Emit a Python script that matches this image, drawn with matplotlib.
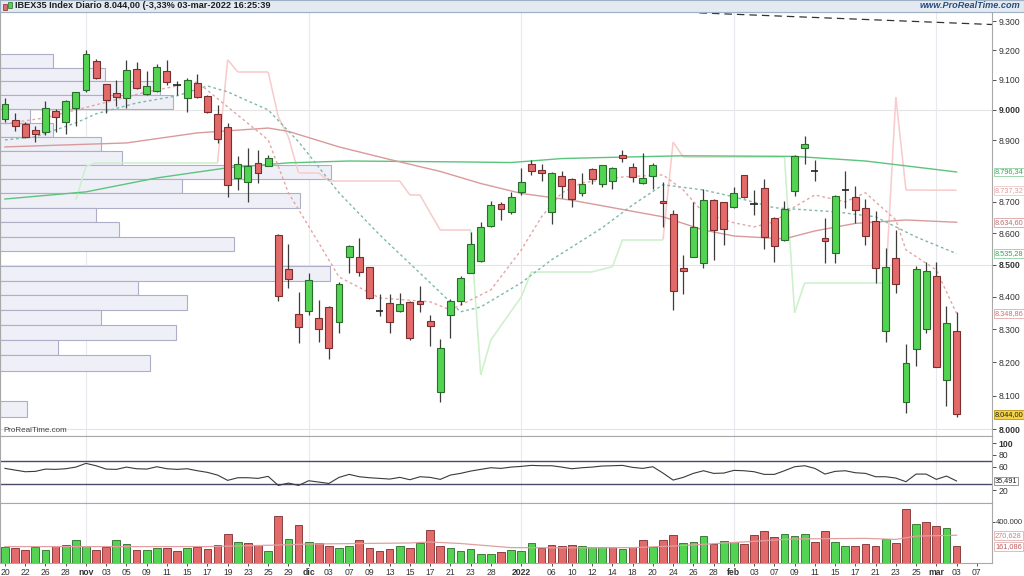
import numpy as np
import matplotlib
matplotlib.use("Agg")
import matplotlib.pyplot as plt
from matplotlib.ticker import NullLocator

plt.rcParams['font.family'] = ['Liberation Sans', 'DejaVu Sans']

# ---- daily candles IBEX35, 20-oct-2021 .. 03-mar-2022 ----
opens = [8969, 8966, 8955, 8934, 8926, 8997, 8960, 9006, 9066, 9164,
         9086, 9056, 9041, 9136, 9054, 9062, 9130, 9085, 9039, 9089,
         9047, 8987, 8945, 8776, 8763, 8827, 8817, 8595, 8487, 8347,
         8358, 8335, 8370, 8324, 8524, 8526, 8492, 8360, 8381, 8358,
         8384, 8388, 8327, 8112, 8344, 8388, 8476, 8512, 8623, 8693,
         8666, 8730, 8822, 8802, 8667, 8784, 8773, 8728, 8806, 8757,
         8768, 8852, 8814, 8760, 8784, 8703, 8661, 8490, 8526, 8505,
         8706, 8699, 8682, 8785, 8697, 8744, 8648, 8577, 8736, 8874,
         8801, 8584, 8538, 8739, 8715, 8680, 8639, 8296, 8521, 8082,
         8241, 8302, 8464, 8147, 8296]
highs = [9041, 8991, 8960, 8948, 9028, 9003, 9033, 9060, 9202, 9170,
         9087, 9099, 9168, 9162, 9130, 9153, 9168, 9097, 9106, 9120,
         9050, 9017, 8956, 8847, 8876, 8868, 8850, 8598, 8565, 8415,
         8474, 8391, 8372, 8445, 8562, 8584, 8494, 8410, 8410, 8412,
         8386, 8434, 8345, 8270, 8393, 8464, 8605, 8637, 8704, 8701,
         8730, 8810, 8836, 8822, 8797, 8798, 8777, 8792, 8808, 8820,
         8814, 8868, 8825, 8857, 8827, 8765, 8674, 8531, 8698, 8741,
         8708, 8701, 8747, 8787, 8738, 8773, 8650, 8703, 8850, 8915,
         8836, 8648, 8722, 8801, 8751, 8708, 8669, 8553, 8610, 8255,
         8497, 8508, 8508, 8372, 8352]
lows = [8959, 8931, 8908, 8894, 8917, 8926, 8920, 8948, 9060, 9104,
        8989, 9013, 9006, 9070, 9050, 9060, 9083, 9048, 8994, 9040,
        8990, 8890, 8717, 8738, 8701, 8760, 8815, 8386, 8429, 8260,
        8343, 8263, 8210, 8289, 8474, 8464, 8394, 8340, 8290, 8355,
        8268, 8355, 8248, 8082, 8273, 8375, 8474, 8510, 8619, 8642,
        8662, 8722, 8787, 8768, 8630, 8712, 8683, 8720, 8757, 8749,
        8740, 8830, 8765, 8758, 8740, 8621, 8360, 8410, 8524, 8490,
        8516, 8563, 8680, 8713, 8658, 8550, 8510, 8575, 8719, 8822,
        8767, 8505, 8505, 8680, 8632, 8563, 8443, 8263, 8412, 8047,
        8189, 8289, 8185, 8069, 8036]
closes = [9019, 8946, 8910, 8922, 9006, 8976, 9030, 9060, 9187, 9108,
          9032, 9043, 9133, 9072, 9079, 9145, 9094, 9082, 9099, 9042,
          8994, 8904, 8755, 8822, 8817, 8792, 8841, 8403, 8455, 8306,
          8453, 8301, 8243, 8440, 8560, 8478, 8398, 8356, 8322, 8379,
          8273, 8379, 8311, 8242, 8387, 8460, 8565, 8621, 8689, 8676,
          8716, 8763, 8798, 8792, 8792, 8752, 8708, 8757, 8773, 8818,
          8808, 8841, 8781, 8776, 8819, 8695, 8417, 8480, 8619, 8706,
          8610, 8614, 8728, 8715, 8694, 8589, 8558, 8676, 8849, 8887,
          8799, 8576, 8720, 8737, 8674, 8591, 8491, 8493, 8441, 8197,
          8487, 8481, 8187, 8321, 8044]

# volume (thousands) and its colour (close vs previous close)
vol_k = [159, 149, 130, 156, 130, 163, 179, 224, 163, 127,
         159, 221, 189, 130, 130, 146, 149, 114, 149, 152,
         137, 179, 280, 205, 195, 176, 117, 455, 237, 368,
         202, 192, 166, 146, 166, 221, 146, 117, 137, 163,
         146, 198, 322, 166, 146, 117, 137, 91, 91, 107,
         127, 117, 192, 146, 172, 166, 176, 163, 156, 156,
         156, 133, 156, 224, 159, 224, 273, 192, 202, 267,
         185, 215, 205, 182, 273, 315, 254, 280, 264, 280,
         208, 309, 205, 166, 166, 185, 163, 234, 192, 527,
         377, 397, 361, 338, 161.086]
vol_dir = list("grrggrgggrrggrggrrgrrrrgrrgrgrgrrggrrrrgrgrrgggggrgggrrrrgggrgrrgrrgggrggrrrrgggrrggrrrgrrgrrgr")
vol_ma_idx = [0, 20, 27, 30, 40, 42, 45, 50, 55, 62, 66, 72, 78, 85, 88, 90, 94]
vol_ma_k = [160, 160, 175, 185, 195, 205, 190, 150, 148, 150, 165, 200, 235, 240, 230, 262, 270.628]

# RSI
rsi = [56.9, 54.0, 51.2, 51.8, 55.7, 55.2, 56.3, 59.1, 65.4, 61.4,
       55.7, 55.2, 59.1, 56.3, 55.7, 59.7, 56.3, 55.2, 56.3, 52.9,
       50.1, 45.5, 36.5, 41.0, 41.0, 39.9, 43.3, 27.9, 31.9, 27.9,
       35.9, 33.6, 31.3, 41.6, 46.7, 42.7, 41.0, 39.9, 38.7, 41.6,
       37.6, 42.7, 41.6, 38.2, 45.5, 48.4, 52.3, 55.2, 58.0, 56.9,
       59.1, 60.3, 62.0, 61.4, 61.4, 59.1, 56.3, 58.0, 59.1, 60.9,
       61.4, 62.0, 58.6, 56.9, 59.7, 48.9, 37.0, 41.6, 48.4, 52.9,
       48.4, 48.9, 53.5, 52.9, 51.2, 46.7, 46.7, 52.9, 59.7, 61.4,
       56.9, 47.2, 51.8, 52.9, 49.5, 48.4, 42.7, 42.7, 40.4, 34.2,
       47.2, 47.2, 38.2, 43.8, 35.491]

# moving averages (vertices)
ma200_idx = [0, 8, 15, 22, 28, 34, 45, 50, 55, 60, 67, 78, 85, 94]
ma200_val = [8709, 8732, 8777, 8810, 8826, 8832, 8829, 8827, 8840, 8844, 8849, 8847, 8832, 8796.34]
ma50_idx = [0, 12, 19, 26, 28, 33, 38, 43, 47, 51, 56, 65, 69, 72, 77, 80, 84, 89, 94]
ma50_val = [8878, 8891, 8924, 8940, 8929, 8878, 8837, 8798, 8759, 8727, 8705, 8652,
            8610, 8591, 8582, 8607, 8631, 8642, 8634.60]
ma20_idx = [0, 3, 7, 9, 13, 17, 20, 22, 26, 29, 33, 37, 42, 45, 47, 51, 54, 59,
            62, 65, 69, 72, 76, 82, 86, 90, 94]
ma20_val = [8901, 8911, 8957, 8987, 9023, 9047, 9080, 9060, 9000, 8895, 8729, 8595,
            8444, 8354, 8369, 8444, 8516, 8617, 8690, 8755, 8738, 8716, 8681, 8668,
            8652, 8588, 8535.28]
ma10_idx = [0, 4, 9, 14, 19, 22, 26, 28, 31, 33, 37, 42, 44, 45, 48, 51, 53, 55, 57,
            61, 65, 67, 69, 72, 74, 76, 78, 80, 83, 85, 88, 89, 92, 94]
ma10_val = [8954, 8974, 9017, 9060, 9093, 9010, 8901, 8729, 8569, 8462, 8397, 8385,
            8360, 8375, 8422, 8547, 8652, 8729, 8761, 8780, 8787, 8738, 8665, 8633,
            8620, 8636, 8684, 8722, 8700, 8729, 8642, 8547, 8484, 8348.86]

# supertrend: vertex, value, side (g = below price, p = above price)
st_idx = [7, 8, 9, 21, 22, 23, 26, 27, 28, 29, 31, 32, 39, 40, 41, 42, 43, 46,
          47, 48, 51, 52, 58, 60, 61, 65, 66, 67, 77, 78, 79, 87, 88, 89, 94]
st_val = [8706, 8814, 8827, 8827, 9168, 9127, 9127, 8977, 8911, 8793, 8793, 8767,
          8767, 8722, 8722, 8665, 8610, 8610, 8162, 8268, 8400, 8478, 8478, 8494,
          8579, 8579, 8894, 8845, 8845, 8351, 8444, 8444, 9043, 8738, 8737.32]
st_side = list("gggg" + "pppppppppppppp" + "gggggggg" + "ppp" + "ggg" + "ppp")

# dashed trendline at the top
trend_idx = [68.6, 97.5]
trend_val = [9328, 9288]

# volume at price (left histogram), bins of 46 points from 9187 downwards
vap_top = 9187
vap_step = 46
vap = [53, 105, 160, 173, 30, 53, 101, 122, 331, 182, 300, 96, 119, 234, 0,
       330, 138, 187, 101, 176, 58, 150, 0, 0, 27]

xlabels = ['20', '22', '26', '28', 'nov', '03', '05', '09', '11', '15', '17', '19',
           '23', '25', '29', 'dic', '03', '07', '09', '13', '15', '17', '21', '23',
           '28', '2022', '06', '10', '12', '14', '18', '20', '24', '26', '28', 'feb',
           '03', '07', '09', '11', '15', '17', '21', '23', '25', 'mar', '03', '07']
xlabel_idx = list(range(0, 49, 2)) + [51] + list(range(54, 97, 2))
month_idx = [8, 30, 51, 72, 92]

GREEN = '#52d452'
GREEN_E = '#2b6b2b'
RED = '#e26a6a'
RED_E = '#7a2e2e'
SPINE = '#a8a8a8'
TXT = '#333333'
TAG_FS = 5.3

fig = plt.figure(figsize=(10.24, 5.76), dpi=100)
ax = fig.add_axes([0, 1 - 436 / 576, 992 / 1024, 424 / 576])
ax_rsi = fig.add_axes([0, 1 - 503 / 576, 992 / 1024, 67 / 576], sharex=ax)
ax_vol = fig.add_axes([0, 1 - 563 / 576, 992 / 1024, 60 / 576], sharex=ax)
hdr = fig.add_axes([0, 1 - 12 / 576, 1, 12 / 576])

x = np.arange(len(closes))
o = np.array(opens, float)
c = np.array(closes, float)
h = np.array(highs, float)
l = np.array(lows, float)

# ---------------- main panel ----------------
ax.set_yscale('log')
ax.set_xlim(-0.49, 97.5)
ax.set_ylim(7980, 9331)

for p in [8000, 8500, 9000]:
    ax.axhline(p, color='#e4e4e4', lw=0.8, zorder=0)
for a in (ax, ax_rsi, ax_vol):
    for m in month_idx:
        a.axvline(m, color='#e8e8ee', lw=0.8, zorder=0)

bins_bottom = [vap_top - (k + 1) * vap_step for k in range(len(vap))]
ax.barh(bins_bottom, np.array(vap) / 10.125, height=vap_step, left=-0.49, align='edge',
        color='#efeff8', edgecolor='#aeaec6', linewidth=0.8, zorder=1)

ax.plot(ma200_idx, ma200_val, color='#5cc47c', lw=1.0, zorder=2)
ax.plot(ma50_idx, ma50_val, color='#d99a9a', lw=1.0, zorder=2)
ax.plot(ma20_idx, ma20_val, color='#7fb8aa', lw=1.0, ls=(0, (2, 2)), zorder=2)
ax.plot(ma10_idx, ma10_val, color='#e2a6a6', lw=1.0, ls=(0, (2, 2)), zorder=2)

for k in range(1, len(st_idx)):
    col = '#cdf0cd' if st_side[k] == 'g' else '#f8cccc'
    ax.plot(st_idx[k - 1:k + 1], st_val[k - 1:k + 1], color=col, lw=1.15,
            zorder=1.5, solid_capstyle='butt')

ax.plot(trend_idx, trend_val, color='#333333', lw=0.9, ls=(0, (6, 4)), zorder=2)

up = c > o
doji = np.abs(c - o) <= 5
body = ~doji
ax.vlines(x, l, h, color='#3c3c3c', lw=0.9, zorder=3)
ax.bar(x[body], np.abs(c - o)[body], bottom=np.minimum(o, c)[body], width=0.68,
       color=np.where(up, GREEN, RED)[body], edgecolor=np.where(up, GREEN_E, RED_E)[body],
       linewidth=0.8, zorder=4)
ax.hlines(c[doji], x[doji] - 0.36, x[doji] + 0.36, color='#222222', lw=1.2, zorder=4)

price_ticks = [8000, 8100, 8200, 8300, 8400, 8500, 8600, 8700, 8900, 9000, 9100, 9200, 9300]
ax.set_yticks(price_ticks, labels=[f"{t / 1000:.3f}" for t in price_ticks])
ax.yaxis.set_minor_locator(NullLocator())
ax.yaxis.tick_right()
ax.tick_params(axis='y', labelsize=6.2, length=3, pad=2, colors=TXT, width=0.6)
for lab, t in zip(ax.get_yticklabels(), price_ticks):
    if t in (8000, 8500, 9000):
        lab.set_fontweight('bold')
ax.tick_params(axis='x', bottom=False, labelbottom=False)


def tag(a, val, txt, tc, ec, fc='white'):
    a.text(1.003, val, txt, transform=a.get_yaxis_transform(), fontsize=TAG_FS, color=tc,
           va='center', ha='left', clip_on=False, zorder=6,
           bbox=dict(boxstyle='square,pad=0.12', fc=fc, ec=ec, lw=0.6))


tag(ax, 8796.34, '8.796,34', '#3aa05a', '#8fd0a0')
tag(ax, 8737.32, '8.737,32', '#e09a9a', '#f0c8c8')
tag(ax, 8634.60, '8.634,60', '#c06a6a', '#d8a0a0')
tag(ax, 8535.28, '8.535,28', '#3aa05a', '#8fd0a0')
tag(ax, 8348.86, '8.348,86', '#d07070', '#e0a8a8')
tag(ax, closes[-1], '8.044,00', '#222222', '#b8960f', '#f3d24a')

ax.text(0.003, 0.004, 'ProRealTime.com', transform=ax.transAxes, fontsize=5.8,
        color='#444444', ha='left', va='bottom')

# ---------------- RSI panel ----------------
ax_rsi.plot(x, rsi, color='#3a3a3a', lw=0.8, zorder=3)
ax_rsi.axhline(70, color='#4a4a6a', lw=1.0, zorder=2)
ax_rsi.axhline(30, color='#4a4a6a', lw=1.0, zorder=2)
ax_rsi.set_ylim(-2, 112)
rsi_ticks = [20, 60, 80, 100]
ax_rsi.set_yticks(rsi_ticks, labels=[str(t) for t in rsi_ticks])
ax_rsi.yaxis.tick_right()
ax_rsi.tick_params(axis='y', labelsize=6.2, length=3, pad=2, colors=TXT, width=0.6)
ax_rsi.get_yticklabels()[-1].set_fontweight('bold')
ax_rsi.tick_params(axis='x', bottom=False, labelbottom=False)
tag(ax_rsi, rsi[-1], '35,491', '#222222', '#888888')

# ---------------- volume panel ----------------
vol = np.array(vol_k) * 1000
vup = np.array(vol_dir) == 'g'
ax_vol.bar(x, vol, width=0.76, color=np.where(vup, GREEN, RED),
           edgecolor=np.where(vup, GREEN_E, RED_E), linewidth=0.6, zorder=3)
ax_vol.plot(vol_ma_idx, np.array(vol_ma_k) * 1000, color='#e0a0a0', lw=0.9, zorder=4)
ax_vol.set_ylim(0, 585000)
ax_vol.set_yticks([400000], labels=['400.000'])
ax_vol.yaxis.tick_right()
ax_vol.tick_params(axis='y', labelsize=5.5, length=2, pad=1, colors=TXT, width=0.6)
tag(ax_vol, vol_ma_k[-1] * 1000, '270,628', '#d08080', '#e0b0b0')
tag(ax_vol, vol[-1], '161,086', '#c05a5a', '#e0b0b0')

ax_vol.set_xticks(xlabel_idx, labels=xlabels)
ax_vol.tick_params(axis='x', labelsize=6.2, length=2, pad=1.5, colors=TXT, width=0.6)
for lab in ax_vol.get_xticklabels():
    if lab.get_text() in ('nov', 'dic', '2022', 'feb', 'mar'):
        lab.set_fontweight('bold')

for a in (ax, ax_rsi, ax_vol):
    for s in a.spines.values():
        s.set_color(SPINE)
        s.set_linewidth(0.8)

# ---------------- header strip ----------------
hdr.set_xlim(0, 1024)
hdr.set_ylim(0, 12)
hdr.set_facecolor('#e3eaf1')
hdr.set_xticks([])
hdr.set_yticks([])
for s in hdr.spines.values():
    s.set_color('#9fb0c2')
    s.set_linewidth(0.8)
hdr.add_patch(plt.Rectangle((3, 2.5), 3.5, 6, fc=RED, ec=RED_E, lw=0.5))
hdr.add_patch(plt.Rectangle((8, 4), 3.5, 6, fc=GREEN, ec=GREEN_E, lw=0.5))
hdr.text(15, 6, 'IBEX35 Index Diario 8.044,00 (-3,33% 03-mar-2022 16:25:39', fontsize=6.6,
         fontweight='bold', color='#1e1e1e', va='center', ha='left')
hdr.text(1020, 6, 'www.ProRealTime.com', fontsize=6.6, fontweight='bold', style='italic',
         color='#2b4d7c', va='center', ha='right')

fig.savefig('out.png', dpi=100)
